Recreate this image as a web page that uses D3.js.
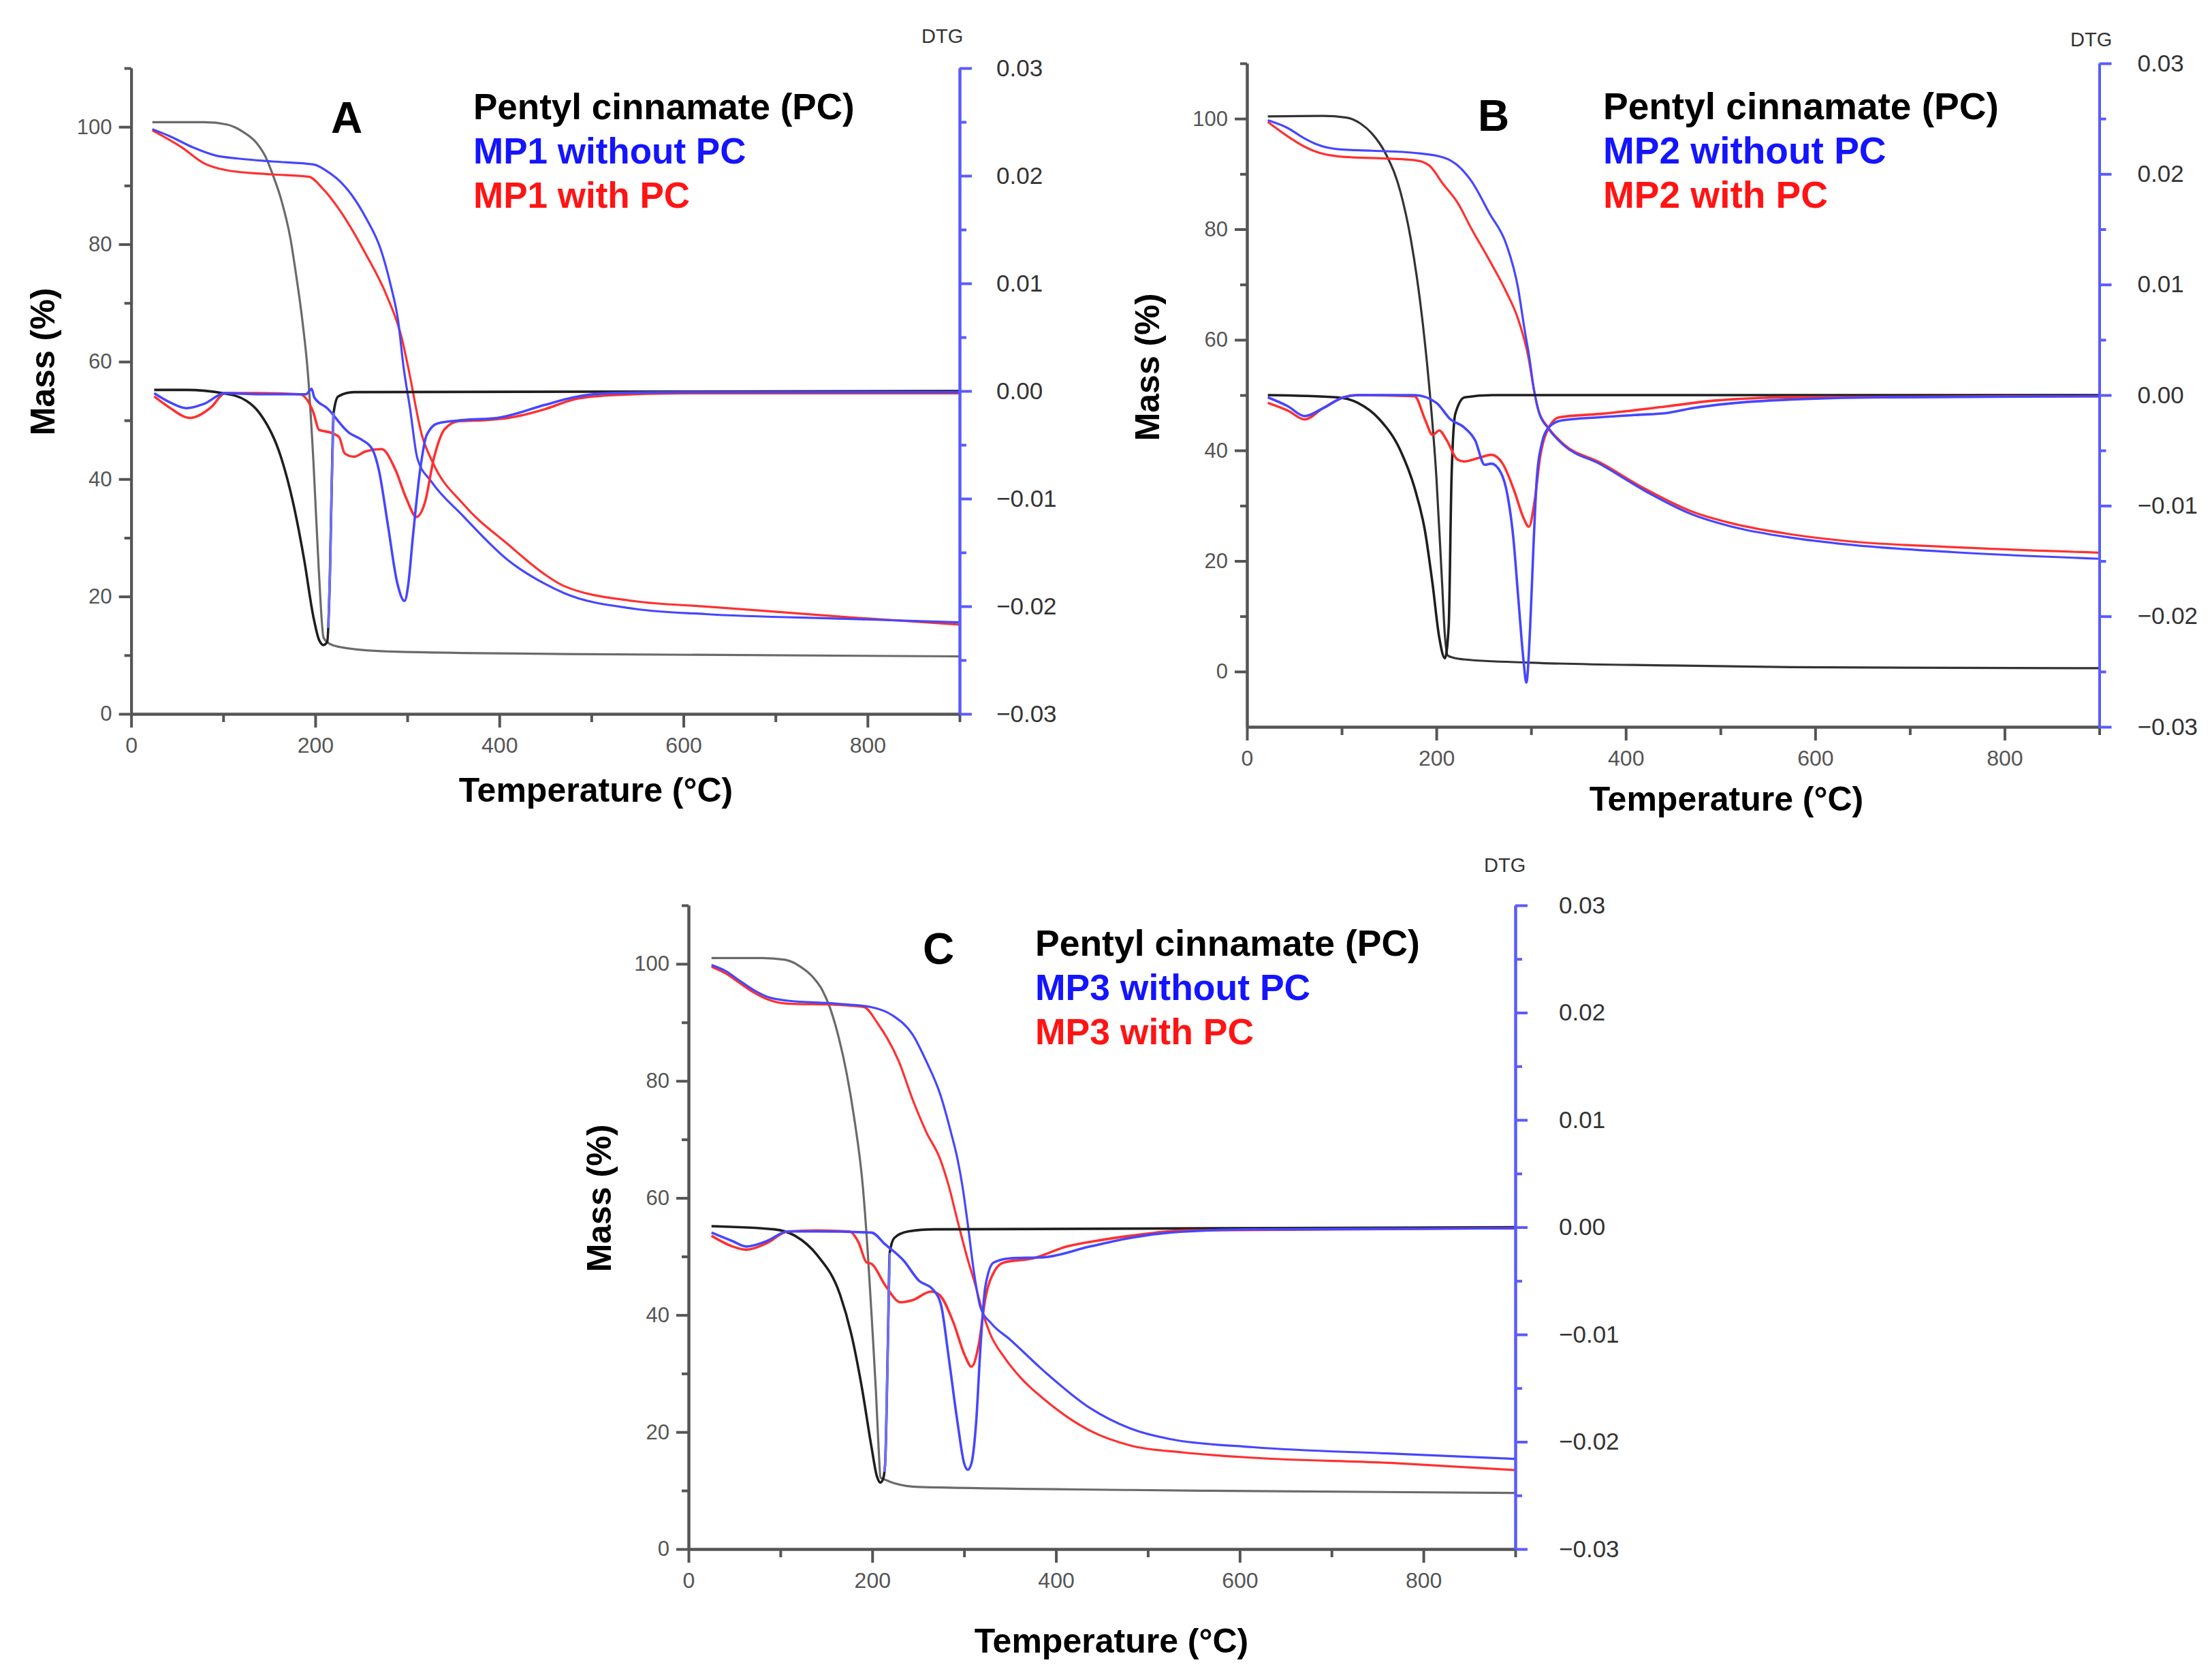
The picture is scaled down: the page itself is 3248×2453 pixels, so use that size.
<!DOCTYPE html>
<html>
<head>
<meta charset="utf-8">
<script src="https://cdnjs.cloudflare.com/ajax/libs/d3/7.8.5/d3.min.js"></script>
<style>
	body { margin: 0; background: #fff; }
	svg { display: block; }
</style>
</head>
<body>
<svg id="fig"></svg>
<script>
	// tick values shared by the three panels
	var tempTicks = [0, 200, 400, 600, 800];
	var tempMinor = [100, 300, 500, 700, 900];
	var massTicks = [0, 20, 40, 60, 80, 100];
	var massMinor = [10, 30, 50, 70, 90, 110];
	var dtgTicks = [-0.03, -0.02, -0.01, 0, 0.01, 0.02, 0.03];
	var dtgMinor = [-0.025, -0.015, -0.005, 0.005, 0.015, 0.025];

	//panel A  [T (°C), mass %] and [T, DTG]
	var legendA = ['Pentyl cinnamate (PC)', 'MP1 without PC', 'MP1 with PC'];
	var tgPcA = [[23,100.8],[80,100.8],[104,100.4],[113,99.9],[121,99.2],[136,97.3],[146,94.9],[153,92.2],[163,87.6],[173,81],[179,75],[186,67],[192,58],[198,43],[204,24],[209,13],[215,12],[230,11.3],[287,10.6],[470,10.2],[900,9.8]];
	var tgMp1A = [[23,99.6],[42,98.4],[67,96.5],[92,95.1],[116,94.6],[153,94.1],[198,93.6],[215,92.2],[227,90.7],[240,88.3],[255,84.5],[271,79.2],[282,73],[290,67],[296,59],[303,52],[311,43.5],[326,39.6],[360,33.8],[410,26.1],[449,22.2],[470,20.6],[547,17.9],[624,17],[777,16.2],[900,15.6]];
	var tgMp1PcA = [[23,99.4],[55,96.5],[79,93.8],[104,92.6],[153,91.9],[193,91.5],[208,89.5],[227,85.7],[255,78.3],[278,71.1],[294,64],[301,59],[316,47.4],[328,42.7],[361,35.7],[410,28.8],[449,23.8],[470,21.8],[547,19.2],[624,18.3],[777,16.5],[900,15.2]];
	var dtgPcA = [[25,0.0001],[60,0.0001],[100,-0.0002],[125,-0.0009],[139,-0.002],[163,-0.0062],[176,-0.0104],[188,-0.0157],[198,-0.021],[204,-0.0231],[209,-0.0236],[213,-0.0233],[216,-0.0168],[218,-0.0083],[220,-0.002],[225,-0.0005],[242,-0.0001],[900,0]];
	var dtgPcRiseA = [[214,-0.022],[216,-0.0168],[218,-0.0083],[220,-0.002]];
	var dtgMp1A = [[25,-0.0002],[41,-0.001],[60,-0.0016],[79,-0.0012],[102,-0.0002],[139,-0.0003],[190,-0.0003],[196,0.0002],[199,-0.0006],[213,-0.0016],[237,-0.0039],[250,-0.0045],[262,-0.0054],[269,-0.0073],[279,-0.0125],[289,-0.0178],[297,-0.0195],[301,-0.018],[306,-0.0136],[314,-0.0073],[321,-0.0041],[333,-0.003],[361,-0.0027],[398,-0.0025],[449,-0.0013],[480,-0.0006],[520,-0.0002],[600,-0.0001],[900,-0.0001]];
	var dtgMp1PcA = [[25,-0.0005],[41,-0.0015],[64,-0.0025],[87,-0.0015],[102,-0.0002],[139,-0.0002],[183,-0.0003],[198,-0.002],[204,-0.0036],[218,-0.0039],[226,-0.0043],[232,-0.0058],[242,-0.0061],[255,-0.0056],[272,-0.0054],[287,-0.0073],[299,-0.01],[310,-0.0117],[319,-0.0104],[329,-0.0062],[341,-0.0035],[356,-0.0028],[385,-0.0027],[410,-0.0025],[449,-0.0017],[480,-0.0008],[520,-0.0004],[600,-0.0002],[900,-0.0002]];

	//panel B
	var legendB = ['Pentyl cinnamate (PC)', 'MP2 without PC', 'MP2 with PC'];
	var tgPcB = [[22,100.4],[80,100.5],[105,100.2],[120,99.1],[132,97.3],[147,93.5],[162,86.8],[173,78.2],[185,63.9],[192,52.4],[200,35.2],[206,16.1],[209,6.5],[212,2.9],[218,2.5],[229,2.2],[301,1.6],[446,1.1],[575,0.8],[900,0.6]];
	var tgMp2B = [[22,99.7],[43,98.3],[60,96.5],[73,95.4],[95,94.5],[132,94.2],[177,93.8],[207,93],[222,91.6],[237,88.7],[256,82.9],[274,77.2],[286,69.6],[293,62],[298,57],[303,51],[308,47],[318,44],[334,41],[373,37.5],[421,32.6],[469,28.5],[517,26],[575,24.2],[633,23],[745,21.6],[900,20.4]];
	var tgMp2PcB = [[22,99.4],[43,96.8],[60,95],[73,94],[95,93.2],[177,92.5],[192,91.6],[207,88.2],[222,84.9],[237,80.1],[256,74.4],[274,68.6],[286,63.9],[297,57],[303,51],[308,47.2],[318,44.2],[334,41.2],[373,37.8],[421,33],[469,29],[517,26.6],[575,24.8],[633,23.6],[745,22.5],[900,21.5]];
	var dtgPcB = [[22,0],[95,-0.0002],[117,-0.0007],[140,-0.0022],[162,-0.005],[177,-0.0084],[188,-0.0123],[196,-0.0171],[203,-0.0219],[209,-0.0238],[213,-0.0209],[216,-0.0075],[220,-0.0017],[230,-0.0002],[260,0],[900,0]];
	var dtgMp2B = [[22,-0.0002],[43,-0.001],[61,-0.0019],[80,-0.0012],[102,-0.0002],[117,0],[177,0],[200,-0.0007],[215,-0.0022],[229,-0.0029],[241,-0.0041],[251,-0.0063],[258,-0.0062],[268,-0.007],[275,-0.009],[281,-0.0127],[287,-0.0189],[292,-0.024],[295,-0.026],[299,-0.021],[302.5,-0.0137],[306,-0.0076],[311,-0.0045],[319,-0.0029],[332,-0.0023],[373,-0.002],[409,-0.0018],[445,-0.0016],[469,-0.0012],[517,-0.0007],[575,-0.0004],[670,-0.0002],[900,-0.0001]];
	var dtgMp2PcB = [[22,-0.0007],[43,-0.0014],[61,-0.0022],[80,-0.0012],[102,-0.0002],[117,0],[177,-0.0001],[188,-0.0022],[196,-0.0036],[203,-0.0032],[211,-0.0041],[222,-0.0058],[229,-0.006],[244,-0.0057],[258,-0.0054],[270,-0.0062],[282,-0.0086],[292,-0.0111],[297.7,-0.0119],[303.7,-0.0096],[309.7,-0.0055],[315.7,-0.0035],[330,-0.002],[373,-0.0017],[445,-0.001],[493,-0.0005],[575,-0.0002],[900,-0.0001]];

	//panel C
	var legendC = ['Pentyl cinnamate (PC)', 'MP3 without PC', 'MP3 with PC'];
	var tgPcC = [[25,101],[80,101],[105,100.7],[113,100.3],[121,99.6],[135,97.8],[146,95.4],[154,92.5],[161,88.9],[172,81.4],[180,74],[190,61.5],[195,51],[200,38],[204,27],[207,17],[209,12.2],[215,11.8],[225,11.2],[251,10.6],[481,10.1],[615,9.9],[900,9.6]];
	var tgMp3C = [[25,99.8],[40,98.8],[55,97.2],[70,95.6],[85,94.4],[108,93.7],[161,93.2],[199,92.6],[222,91.2],[244,87.9],[259,83.3],[274,77.7],[286,71],[293,66.5],[298,62.2],[304,55.5],[311,47],[318,41.2],[330,38.5],[350,35.8],[387,30.4],[437,24.1],[481,20.6],[524,18.8],[615,17.4],[766,16.3],[900,15.4]];
	var tgMp3PcC = [[25,99.5],[40,98.4],[55,96.8],[70,95.2],[85,94],[108,93.2],[161,93],[191,92.6],[206,89.8],[229,83.3],[244,76.8],[259,71.2],[274,66.6],[283,62.2],[293,56],[303,50],[313,44.7],[320,40.5],[328,36.9],[345,32.5],[362,29.2],[387,25.6],[412,22.6],[440,20],[481,17.7],[539,16.5],[615,15.6],[766,14.7],[900,13.5]];
	var dtgPcC = [[25,0.0001],[93,-0.0002],[116,-0.0008],[140,-0.0026],[165,-0.0063],[177,-0.0099],[189,-0.0151],[199,-0.0204],[205,-0.0232],[209,-0.0238],[212,-0.0234],[214,-0.0221],[217,-0.0109],[219,-0.0024],[224,-0.001],[239,-0.0004],[268,-0.0002],[900,0]];
	var dtgPcRiseC = [[213,-0.0228],[214,-0.0221],[217,-0.0109],[219,-0.0024]];
	var dtgMp3C = [[25,-0.0005],[48,-0.0013],[63,-0.0018],[85,-0.0013],[108,-0.0004],[140,-0.0004],[199,-0.0005],[214,-0.0016],[234,-0.0031],[251,-0.005],[266,-0.0058],[275,-0.0073],[283,-0.012],[293,-0.0183],[300,-0.022],[304,-0.0226],[308,-0.022],[313,-0.0183],[318,-0.0109],[323,-0.0056],[332,-0.0033],[350,-0.0029],[387,-0.0028],[437,-0.0018],[481,-0.001],[524,-0.0005],[615,-0.0002],[900,-0.0001]];
	var dtgMp3PcC = [[25,-0.0008],[48,-0.0018],[63,-0.0021],[85,-0.0015],[108,-0.0004],[140,-0.0003],[175,-0.0004],[185,-0.0014],[194,-0.0033],[199,-0.0034],[214,-0.0054],[231,-0.007],[244,-0.0068],[264,-0.006],[273,-0.0063],[288,-0.0088],[301,-0.012],[308,-0.013],[316,-0.0109],[323,-0.0067],[333,-0.0041],[343,-0.0033],[375,-0.0029],[412,-0.0018],[449,-0.0012],[481,-0.0008],[540,-0.0003],[900,-0.0001]];

	var W = 3248, H = 2453;
	var FONT = '"Liberation Sans", Arial, Helvetica, sans-serif';
	var BLUE = '#4646ff', RED = '#ff3030';

	var svg = d3.select('#fig').attr('width', W).attr('height', H)
		.attr('viewBox', '0 0 ' + W + ' ' + H);
	svg.append('rect').attr('width', W).attr('height', H).attr('fill', '#fff');

	//layout of each panel (pixel boxes)
	var panels = [{
		letter: 'A', legend: legendA, left: 192.6, right: 1409, top: 100, bottom: 1048, massMin: 0,
		letterX: 486, letterY: 195, legX: 695, legY: 175, legSize: 53, dtgX: 1353, dtgY: 63,
		massX: 80, massY: 531, tempX: 875, tempY: 1177, rPad: 36, tgPcColor: '#6a6a6a',
		tg: [tgPcA, tgMp1PcA, tgMp1A], dtg: [dtgPcA, dtgMp1PcA, dtgMp1A], rise: dtgPcRiseA
	}, {
		letter: 'B', legend: legendB, left: 1831, right: 3082.5, top: 93, bottom: 1067, massMin: -10,
		letterX: 2170, letterY: 192, legX: 2354, legY: 175, legSize: 55, dtgX: 3040, dtgY: 68,
		massX: 1702, massY: 539, tempX: 2535, tempY: 1190, rPad: 38, tgPcColor: '#333',
		tg: [tgPcB, tgMp2PcB, tgMp2B], dtg: [dtgPcB, dtgMp2PcB, dtgMp2B], rise: null
	}, {
		letter: 'C', legend: legendC, left: 1011, right: 2225, top: 1329, bottom: 2274, massMin: 0,
		letterX: 1355, letterY: 1415, legX: 1520, legY: 1403, legSize: 53.5, dtgX: 2179, dtgY: 1280,
		massX: 897, massY: 1759, tempX: 1632, tempY: 2426, rPad: 46, tgPcColor: '#6a6a6a',
		tg: [tgPcC, tgMp3PcC, tgMp3C], dtg: [dtgPcC, dtgMp3PcC, dtgMp3C], rise: dtgPcRiseC
	}];

	function styleAxis(sel, color, size, textColor) {
		sel.selectAll('path.domain').attr('stroke', color).attr('stroke-width', 4);
		sel.selectAll('.tick line').attr('stroke', color).attr('stroke-width', 4);
		sel.selectAll('.tick text').attr('font-family', FONT).attr('font-size', size)
			.attr('fill', textColor);
	}

	function drawPanel(p) {
		var g = svg.append('g').attr('class', 'panel-' + p.letter);
		var x = d3.scaleLinear().domain([0, 900]).range([p.left, p.right]);
		var y = d3.scaleLinear().domain([p.massMin, 110]).range([p.bottom, p.top]);
		var y2 = d3.scaleLinear().domain([-0.03, 0.03]).range([p.bottom, p.top]);

		//curves
		var tgLine = d3.line().x(function(d) { return x(d[0]); })
			.y(function(d) { return y(d[1]); }).curve(d3.curveMonotoneX);
		var dtgLine = d3.line().x(function(d) { return x(d[0]); })
			.y(function(d) { return y2(d[1]); }).curve(d3.curveMonotoneX);
		var tgColors = [p.tgPcColor, RED, BLUE];
		var dtgColors = ['#1e1e1e', RED, BLUE];
		var curves = g.append('g').attr('fill', 'none').attr('stroke-linejoin', 'round');
		p.tg.forEach(function(s, i) {
			curves.append('path').datum(s).attr('d', tgLine)
				.attr('stroke', tgColors[i]).attr('stroke-width', 3.2);
		});
		p.dtg.forEach(function(s, i) {
			curves.append('path').datum(s).attr('d', dtgLine)
				.attr('stroke', dtgColors[i]).attr('stroke-width', 3.6);
		});
		if (p.rise) {
			curves.append('path').datum(p.rise).attr('d', dtgLine)
				.attr('stroke', '#6f6fff').attr('stroke-width', 3.4);
		}

		//bottom axis
		var bx = g.append('g').attr('transform', 'translate(0,' + p.bottom + ')');
		bx.append('g').call(d3.axisBottom(x).tickValues(tempMinor).tickSize(12).tickSizeOuter(0).tickFormat(''));
		bx.append('g').call(d3.axisBottom(x).tickValues(tempTicks).tickSize(20).tickSizeOuter(0).tickPadding(14));
		styleAxis(bx, '#555', 32, '#555');

		//left axis
		var lx = g.append('g').attr('transform', 'translate(' + p.left + ',0)');
		lx.append('g').call(d3.axisLeft(y).tickValues(massMinor).tickSize(10).tickSizeOuter(0).tickFormat(''));
		lx.append('g').call(d3.axisLeft(y).tickValues(massTicks).tickSize(18).tickSizeOuter(0).tickPadding(10));
		styleAxis(lx, '#555', 31, '#555');

		//right axis (DTG)
		var rx = g.append('g').attr('transform', 'translate(' + p.right + ',0)');
		rx.append('g').call(d3.axisRight(y2).tickValues(dtgMinor).tickSize(10).tickSizeOuter(0).tickFormat(''));
		rx.append('g').call(d3.axisRight(y2).tickValues(dtgTicks).tickSize(18).tickSizeOuter(0)
			.tickPadding(p.rPad).tickFormat(d3.format('.2f')));
		styleAxis(rx, '#5a5aff', 35, '#333');

		//titles
		g.append('text').attr('x', p.dtgX).attr('y', p.dtgY).text('DTG')
			.attr('font-family', FONT).attr('font-size', 29).attr('fill', '#333');
		g.append('text').attr('transform', 'translate(' + p.massX + ',' + p.massY + ') rotate(-90)')
			.attr('text-anchor', 'middle').text('Mass (%)')
			.attr('font-family', FONT).attr('font-size', 50).attr('font-weight', 'bold').attr('fill', '#000');
		g.append('text').attr('x', p.tempX).attr('y', p.tempY).attr('text-anchor', 'middle')
			.text('Temperature (°C)')
			.attr('font-family', FONT).attr('font-size', 50).attr('font-weight', 'bold').attr('fill', '#000');
		g.append('text').attr('x', p.letterX).attr('y', p.letterY).text(p.letter)
			.attr('font-family', FONT).attr('font-size', 64).attr('font-weight', 'bold').attr('fill', '#000');

		//legend text
		var legColors = ['#000', '#1414ff', '#ff1414'];
		g.selectAll('text.leg').data(p.legend).enter().append('text').attr('class', 'leg')
			.attr('x', p.legX).attr('y', function(d, i) { return p.legY + i * 65; })
			.text(function(d) { return d; })
			.attr('fill', function(d, i) { return legColors[i]; })
			.attr('font-family', FONT).attr('font-size', p.legSize).attr('font-weight', 'bold');
	}

	panels.forEach(drawPanel);
</script>
</body>
</html>
